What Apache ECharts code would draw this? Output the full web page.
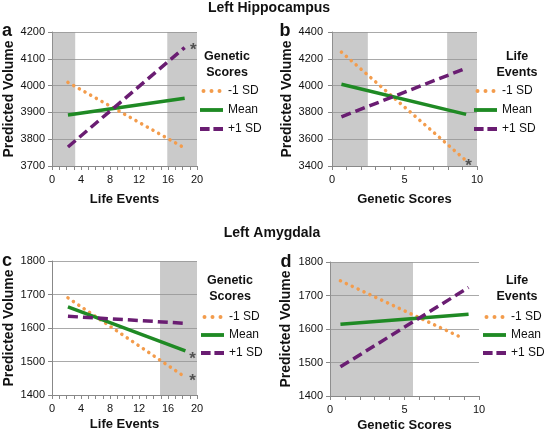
<!DOCTYPE html>
<html><head><meta charset="utf-8">
<script src="https://cdn.jsdelivr.net/npm/echarts@6/dist/echarts.min.js"></script>
<style>html,body{margin:0;padding:0;background:#fff}#c{width:544px;height:433px}</style>
</head><body><div id="c"></div>
<script>
// ---- data ----
const seriesNames = ['-1 SD', 'Mean', '+1 SD'];
// Panel a: Left Hippocampus vs Life Events (legend: Genetic Scores)
const aX = [2.2, 18.3];
const aLow = [4012, 3767];
const aMean = [3890, 3953];
const aHigh = [3771, 4142];
const aShade = [[0, 3.2], [15.9, 20]];
const aStars = [[19.5, 4152]];
// Panel b: Left Hippocampus vs Genetic Scores (legend: Life Events)
const bX = [0.65, 9.25];
const bLow = [4250, 3440];
const bMean = [4010, 3785];
const bHigh = [3767, 4130];
const bShade = [[0, 2.47], [7.94, 10]];
const bStars = [[9.42, 3435]];
// Panel c: Left Amygdala vs Life Events
const cX = [2.2, 18.4];
const cLow = [1690, 1453];
const cMean = [1663, 1532];
const cHigh = [1635, 1614];
const cShade = [[14.9, 20]];
const cStars = [[19.4, 1522], [19.4, 1455]];
// Panel d: Left Amygdala vs Genetic Scores
const dX = [0.7, 9.3];
const dLowX = [0.7, 8.85];
const dLow = [1744, 1574];
const dMean = [1614, 1644];
const dHigh = [1487, 1724];
const dShade = [[0, 5.57]];
const dStars = [];
// axis settings
const lifeAxis = {min: 0, max: 20, interval: 4, minor: 4};
const genAxis = {min: 0, max: 10, interval: 5, minor: 5};
const hippoAY = {min: 3700, max: 4200, interval: 100};
const hippoBY = {min: 3400, max: 4400, interval: 200};
const amygY = {min: 1400, max: 1800, interval: 100};

const FONT = '"Liberation Sans", Arial, sans-serif';
const C_LOW = '#f39c4c', C_MEAN = '#1f8a24', C_HIGH = '#6a1d72';
const SHADE = 'rgba(150,150,150,0.5)';
const ICONS = [
  'path://M0,2a2,2 0 1,0 4,0a2,2 0 1,0 -4,0Z M8,2a2,2 0 1,0 4,0a2,2 0 1,0 -4,0Z M16,2a2,2 0 1,0 4,0a2,2 0 1,0 -4,0Z',
  'path://M0,0H24V4H0Z',
  'path://M0,0H10V4H0Z M14,0H24V4H14Z'
];

const grids = [
  {left: 52, top: 32, width: 145, height: 134},
  {left: 332, top: 32, width: 145, height: 134},
  {left: 52, top: 261, width: 145, height: 134},
  {left: 330, top: 262, width: 149, height: 134}
];

function xAxisOf(i, ax, name, gap) {
  return {
    gridIndex: i, type: 'value', min: ax.min, max: ax.max, interval: ax.interval,
    name: name, nameLocation: 'middle', nameGap: gap,
    nameTextStyle: {fontFamily: FONT, fontWeight: 'bold', fontSize: 13, color: '#111'},
    axisLine: {show: true, onZero: false, lineStyle: {color: '#888'}},
    axisTick: {show: true, length: 4, lineStyle: {color: '#888'}},
    minorTick: {show: true, splitNumber: ax.minor, length: 4, lineStyle: {color: '#888'}},
    axisLabel: {fontFamily: FONT, fontSize: 11, color: '#111', margin: 8, formatter: v => String(v)},
    splitLine: {show: false}
  };
}
function yAxisOf(i, ax, gap, margin) {
  return {
    gridIndex: i, type: 'value', min: ax.min, max: ax.max, interval: ax.interval,
    name: 'Predicted Volume', nameLocation: 'middle', nameGap: gap,
    nameTextStyle: {fontFamily: FONT, fontWeight: 'bold', fontSize: 14, color: '#111'},
    axisLine: {show: true, lineStyle: {color: '#888'}},
    axisTick: {show: true, length: 4, lineStyle: {color: '#888'}},
    axisLabel: {fontFamily: FONT, fontSize: 11, color: '#111', margin: margin, formatter: v => String(v)},
    splitLine: {show: true, lineStyle: {color: '#a9a9a9', width: 1}}
  };
}
function pts(xs, ys) { return xs.map((x, k) => [x, ys[k]]); }
function panelSeries(i, lowX, low, meanX, mean, highX, high, shade, stars) {
  return [
    {name: seriesNames[0], type: 'line', xAxisIndex: i, yAxisIndex: i, data: pts(lowX, low),
     symbol: 'none', lineStyle: {color: C_LOW, width: 3.5, type: [0.1, 6.4], cap: 'round'},
     itemStyle: {color: C_LOW}, z: 3,
     markArea: {silent: true, itemStyle: {color: SHADE}, data: shade.map(s => [{xAxis: s[0]}, {xAxis: s[1]}])}},
    {name: seriesNames[1], type: 'line', xAxisIndex: i, yAxisIndex: i, data: pts(meanX, mean),
     symbol: 'none', lineStyle: {color: C_MEAN, width: 3.5}, itemStyle: {color: C_MEAN}, z: 4},
    {name: seriesNames[2], type: 'line', xAxisIndex: i, yAxisIndex: i, data: pts(highX, high),
     symbol: 'none', lineStyle: {color: C_HIGH, width: 3.5, type: [10, 5]}, itemStyle: {color: C_HIGH}, z: 5},
    {name: 'stars', type: 'scatter', xAxisIndex: i, yAxisIndex: i, data: stars, symbolSize: 0,
     label: {show: true, formatter: '*', position: 'inside', offset: [0, 5],
             fontFamily: FONT, fontWeight: 'bold', fontSize: 17, color: '#333'}, z: 6}
  ];
}
function legendOf(left, top, gap) {
  return {left: left, top: top, orient: 'vertical', padding: 0, itemGap: gap,
    itemWidth: 23, itemHeight: 4, selectedMode: false,
    data: seriesNames.map((n, k) => ({name: n, icon: ICONS[k]})),
    textStyle: {fontFamily: FONT, fontSize: 12, color: '#111', lineHeight: 14}};
}
function txt(x, y, s, size) {
  return {type: 'text', x: x, y: y, silent: true,
    style: {text: s, font: 'bold ' + size + 'px ' + FONT, fill: '#111', align: 'center', verticalAlign: 'middle'}};
}

const chart = echarts.init(document.getElementById('c'), null, {renderer: 'canvas'});
chart.setOption({
  animation: false,
  backgroundColor: '#fff',
  grid: grids,
  xAxis: [
    xAxisOf(0, lifeAxis, 'Life Events', 27),
    xAxisOf(1, genAxis, 'Genetic Scores', 27),
    xAxisOf(2, lifeAxis, 'Life Events', 23),
    xAxisOf(3, genAxis, 'Genetic Scores', 23)
  ],
  yAxis: [
    yAxisOf(0, hippoAY, 35, 7),
    yAxisOf(1, hippoBY, 38, 9),
    yAxisOf(2, amygY, 35, 7),
    yAxisOf(3, amygY, 37, 7)
  ],
  legend: [
    legendOf(200, 84, 5),
    legendOf(474, 84, 5),
    legendOf(201, 310, 4),
    legendOf(483, 310, 4)
  ],
  graphic: [
    txt(269, 8, 'Left Hippocampus', 14),
    txt(272, 233, 'Left Amygdala', 14),
    txt(7, 31, 'a', 18), txt(285, 31, 'b', 18),
    txt(7, 261, 'c', 18), txt(286, 262, 'd', 18),
    txt(227, 57, 'Genetic', 12.5), txt(227, 73, 'Scores', 12.5),
    txt(517, 57, 'Life', 12.5), txt(517, 73, 'Events', 12.5),
    txt(230, 281, 'Genetic', 12.5), txt(230, 297, 'Scores', 12.5),
    txt(517, 281, 'Life', 12.5), txt(517, 297, 'Events', 12.5)
  ],
  series: [].concat(
    panelSeries(0, aX, aLow, aX, aMean, aX, aHigh, aShade, aStars),
    panelSeries(1, bX, bLow, bX, bMean, bX, bHigh, bShade, bStars),
    panelSeries(2, cX, cLow, cX, cMean, cX, cHigh, cShade, cStars),
    panelSeries(3, dLowX, dLow, dX, dMean, dX, dHigh, dShade, dStars)
  )
});
</script></body></html>
